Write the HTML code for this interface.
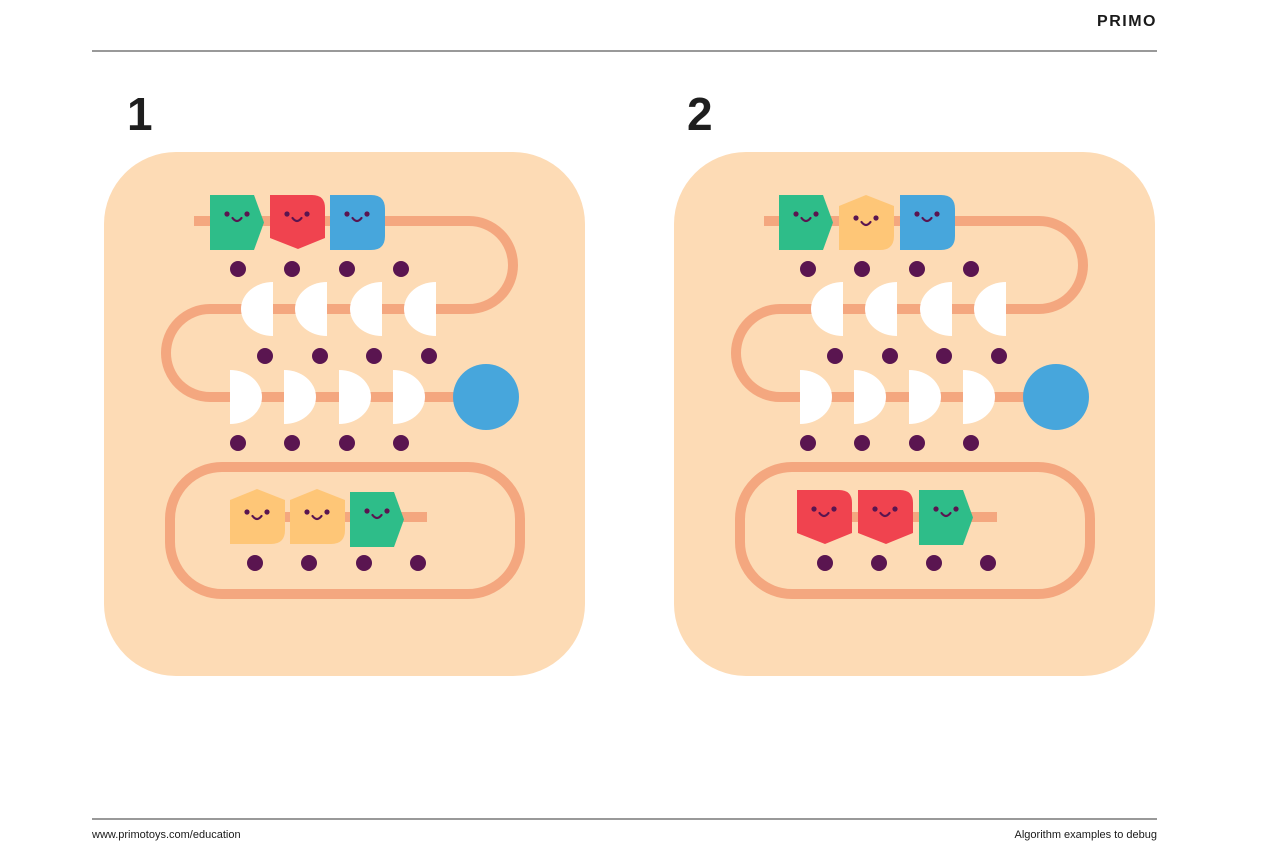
<!DOCTYPE html>
<html><head><meta charset="utf-8"><style>
html,body{margin:0;padding:0;background:#fff;}
body{width:1280px;height:854px;overflow:hidden;}
svg{display:block}
</style></head><body>
<svg width="1280" height="854" viewBox="0 0 1280 854" xmlns="http://www.w3.org/2000/svg" font-family="Liberation Sans, sans-serif">
<defs>
<g id="face"><circle cx="17" cy="19" r="2.6" fill="#5a1550"/><circle cx="37" cy="19" r="2.6" fill="#5a1550"/><path d="M22.5,23 Q27,29 31.5,23" fill="none" stroke="#5a1550" stroke-width="2.2" stroke-linecap="round"/></g>
<g id="G"><path d="M0,0 H44 L54,27.5 L44,55 H0 Z" fill="#2ebd89"/><use href="#face"/></g>
<g id="R"><path d="M0,0 H42 Q55,0 55,13 V43 L28,54 L0,43 Z" fill="#f0434f"/><use href="#face"/></g>
<g id="B"><path d="M0,0 H41 Q55,0 55,14 V41 Q55,55 41,55 H0 Z" fill="#47a6dc"/><use href="#face"/></g>
<g id="Y"><path d="M0,11 L27,0 L55,11 V41 Q55,55 41,55 H0 Z" fill="#fec677"/><g transform="translate(0,4)"><use href="#face"/></g></g>
<g id="board">
<rect x="104" y="152" width="481" height="524" rx="72" fill="#fddbb5"/>
<g fill="none" stroke="#f4a77f" stroke-width="10">
<path d="M194,221 H469 A44,44 0 0 1 469,309 H210 A44,44 0 0 0 210,397 H460"/>
<rect x="170" y="467" width="350" height="127" rx="52"/>
</g>
<path d="M280,517 H427" stroke="#f4a77f" stroke-width="10"/>
<circle cx="486" cy="397" r="33" fill="#47a6dc"/>
<g fill="#5a1550">
<circle cx="238" cy="269" r="8"/><circle cx="292" cy="269" r="8"/><circle cx="347" cy="269" r="8"/><circle cx="401" cy="269" r="8"/>
<circle cx="265" cy="356" r="8"/><circle cx="320" cy="356" r="8"/><circle cx="374" cy="356" r="8"/><circle cx="429" cy="356" r="8"/>
<circle cx="238" cy="443" r="8"/><circle cx="292" cy="443" r="8"/><circle cx="347" cy="443" r="8"/><circle cx="401" cy="443" r="8"/>
<circle cx="255" cy="563" r="8"/><circle cx="309" cy="563" r="8"/><circle cx="364" cy="563" r="8"/><circle cx="418" cy="563" r="8"/>
</g>
<g fill="#fff">
<path d="M273,282 A32,27 0 0 0 273,336 Z"/><path d="M327,282 A32,27 0 0 0 327,336 Z"/><path d="M382,282 A32,27 0 0 0 382,336 Z"/><path d="M436,282 A32,27 0 0 0 436,336 Z"/>
<path d="M230,370 A32,27 0 0 1 230,424 Z"/><path d="M284,370 A32,27 0 0 1 284,424 Z"/><path d="M339,370 A32,27 0 0 1 339,424 Z"/><path d="M393,370 A32,27 0 0 1 393,424 Z"/>
</g>
</g>
</defs>
<text x="1157" y="26" text-anchor="end" font-size="16" font-weight="bold" fill="#1a1a1a" letter-spacing="1.5">PRIMO</text>
<line x1="92" y1="51" x2="1157" y2="51" stroke="#333" stroke-width="1"/>
<text x="127" y="130" font-size="46" font-weight="bold" fill="#1e1e1e">1</text>
<text x="687" y="130" font-size="46" font-weight="bold" fill="#1e1e1e">2</text>

<use href="#board"/>
<use href="#G" x="210" y="195"/><use href="#R" x="270" y="195"/><use href="#B" x="330" y="195"/>
<use href="#Y" x="230" y="489"/><use href="#Y" x="290" y="489"/><use href="#G" x="350" y="492"/>

<g transform="translate(570,0)"><use href="#board"/></g>
<use href="#G" x="779" y="195"/><use href="#Y" x="839" y="195"/><use href="#B" x="900" y="195"/>
<use href="#R" x="797" y="490"/><use href="#R" x="858" y="490"/><use href="#G" x="919" y="490"/>

<line x1="92" y1="819" x2="1157" y2="819" stroke="#333" stroke-width="1"/>
<text x="92" y="838" font-size="11" fill="#1a1a1a">www.primotoys.com/education</text>
<text x="1157" y="838" text-anchor="end" font-size="11" fill="#1a1a1a">Algorithm examples to debug</text>
</svg>
</body></html>
